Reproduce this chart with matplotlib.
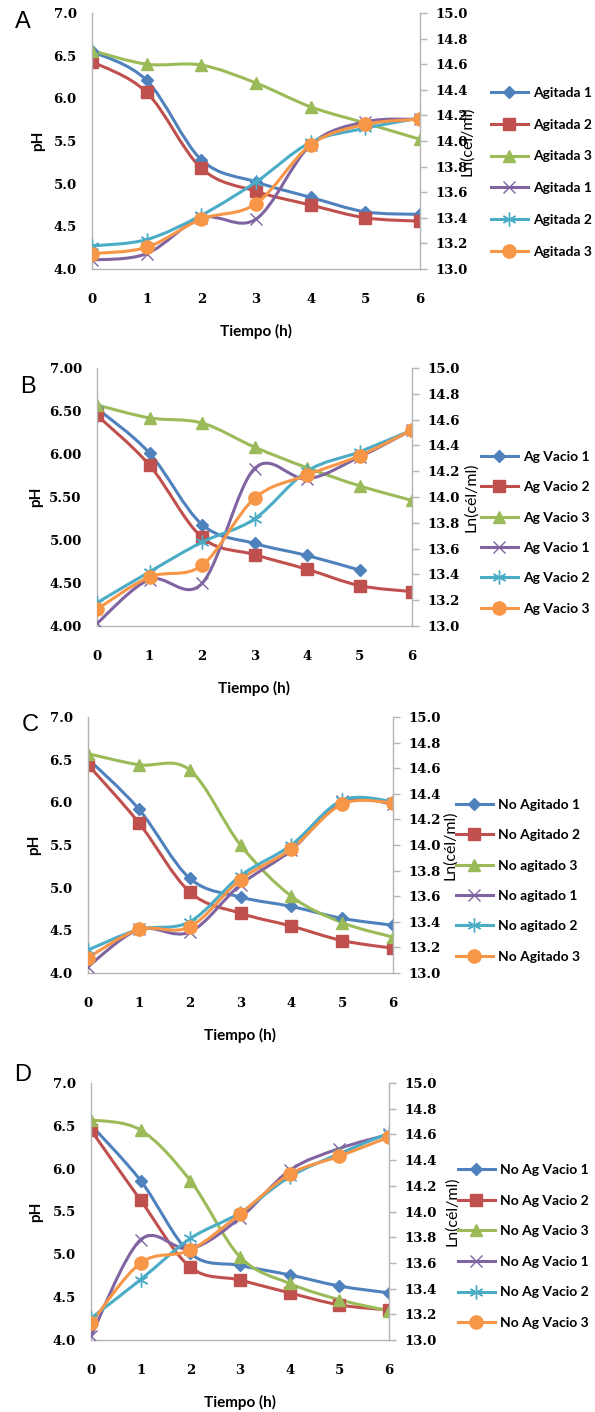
import matplotlib

matplotlib.use('Agg')
import matplotlib.pyplot as plt
from matplotlib.path import Path
from matplotlib.patches import PathPatch
from matplotlib.lines import Line2D
import numpy as np

plt.rcParams['font.family'] = ['DejaVu Serif']
plt.rcParams['font.weight'] = 'bold'

tiempo = [0, 1, 2, 3, 4, 5, 6]

# panel A
a_labels = ["Agitada 1", "Agitada 2", "Agitada 3", "Agitada 1", "Agitada 2", "Agitada 3"]
a_ph1 = [6.55, 6.21, 5.28, 5.02, 4.84, 4.67, 4.64]
a_ph2 = [6.43, 6.07, 5.18, 4.91, 4.75, 4.60, 4.56]
a_ph3 = [6.56, 6.40, 6.39, 6.18, 5.90, 5.71, 5.52]
a_ln1 = [13.07, 13.12, 13.40, 13.39, 13.97, 14.15, 14.17]
a_ln2 = [13.18, 13.23, 13.42, 13.68, 13.99, 14.10, 14.18]
a_ln3 = [13.12, 13.17, 13.39, 13.51, 13.97, 14.13, 14.17]

# panel B
b_labels = ["Ag Vacio 1", "Ag Vacio 2", "Ag Vacio 3", "Ag Vacio 1", "Ag Vacio 2", "Ag Vacio 3"]
b_ph1 = [6.53, 6.01, 5.18, 4.96, 4.82, 4.65, np.nan]
b_ph2 = [6.45, 5.87, 5.03, 4.83, 4.66, 4.47, 4.40]
b_ph3 = [6.57, 6.42, 6.36, 6.08, 5.84, 5.63, 5.46]
b_ln1 = [13.02, 13.36, 13.33, 14.22, 14.14, 14.31, 14.52]
b_ln2 = [13.18, 13.42, 13.65, 13.83, 14.20, 14.35, 14.52]
b_ln3 = [13.13, 13.38, 13.47, 13.99, 14.17, 14.32, 14.52]

# panel C
c_labels = ["No Agitado 1", "No Agitado 2", "No agitado 3", "No agitado 1", "No agitado 2", "No Agitado 3"]
c_ph1 = [6.51, 5.92, 5.11, 4.89, 4.78, 4.64, 4.56]
c_ph2 = [6.44, 5.76, 4.95, 4.70, 4.55, 4.38, 4.29]
c_ph3 = [6.57, 6.44, 6.38, 5.50, 4.90, 4.59, 4.42]
c_ln1 = [13.05, 13.34, 13.32, 13.69, 13.96, 14.34, 14.32]
c_ln2 = [13.18, 13.34, 13.40, 13.76, 14.00, 14.35, 14.34]
c_ln3 = [13.12, 13.34, 13.36, 13.73, 13.97, 14.32, 14.33]

# panel D
d_labels = ["No Ag Vacio 1", "No Ag Vacio 2", "No Ag Vacio 3", "No Ag Vacio 1", "No Ag Vacio 2", "No Ag Vacio 3"]
d_ph1 = [6.51, 5.86, 5.01, 4.87, 4.76, 4.63, 4.55]
d_ph2 = [6.45, 5.63, 4.85, 4.70, 4.55, 4.41, 4.35]
d_ph3 = [6.57, 6.45, 5.86, 4.97, 4.66, 4.47, 4.34]
d_ln1 = [13.03, 13.78, 13.71, 13.95, 14.32, 14.49, 14.60]
d_ln2 = [13.17, 13.47, 13.79, 13.99, 14.27, 14.45, 14.61]
d_ln3 = [13.13, 13.60, 13.70, 13.98, 14.29, 14.43, 14.58]

colors = ["#4F81BD", "#C0504D", "#9BBB59", "#8064A2", "#4BACC6", "#F79646"]
markers = ["D", "s", "^", "x", (6, 2, 0), "o"]
msizes = [6.5, 8.5, 8.5, 9, 10, 9.5]

W, H = 595, 1412
sans = ['Lato', 'DejaVu Sans']
gray = "#b4b4b4"

# layout (pixels): plot box (l, r, t, b), letter pos, pH label x, Ln label x, legend (x, top, spacing)
panels = [
    dict(letter="A", ph=[a_ph1, a_ph2, a_ph3], ln=[a_ln1, a_ln2, a_ln3], labels=a_labels, fmt="%.1f",
         box=(92, 420, 13, 269), let=(23, 22), phx=38, lnx=467, leg=(491, 87, 1.42)),
    dict(letter="B", ph=[b_ph1, b_ph2, b_ph3], ln=[b_ln1, b_ln2, b_ln3], labels=b_labels, fmt="%.2f",
         box=(97, 412, 368, 626), let=(28, 387), phx=36, lnx=471, leg=(481, 451, 1.32)),
    dict(letter="C", ph=[c_ph1, c_ph2, c_ph3], ln=[c_ln1, c_ln2, c_ln3], labels=c_labels, fmt="%.1f",
         box=(88, 393, 717, 973), let=(30, 725), phx=34, lnx=450, leg=(456, 799, 1.32)),
    dict(letter="D", ph=[d_ph1, d_ph2, d_ph3], ln=[d_ln1, d_ln2, d_ln3], labels=d_labels, fmt="%.1f",
         box=(91, 389, 1083, 1340), let=(23, 1075), phx=36, lnx=452, leg=(458, 1164, 1.34)),
]


def smooth_path(xs, ys):
    pts = np.array([(x, y) for x, y in zip(xs, ys) if not np.isnan(y)], dtype=float)
    n = len(pts)
    verts = [pts[0]]
    codes = [Path.MOVETO]
    for i in range(n - 1):
        p0 = pts[max(i - 1, 0)]
        p1 = pts[i]
        p2 = pts[i + 1]
        p3 = pts[min(i + 2, n - 1)]
        verts += [p1 + (p2 - p0) / 6.0, p2 - (p3 - p1) / 6.0, p2]
        codes += [Path.CURVE4] * 3
    return Path(verts, codes)


def draw_series(ax, ys, k):
    ax.add_patch(PathPatch(smooth_path(tiempo, ys), fill=False, edgecolor=colors[k],
                           linewidth=2.2, capstyle='round', joinstyle='round'))
    ax.plot(tiempo, ys, linestyle='none', marker=markers[k], markersize=msizes[k],
            color=colors[k], markeredgecolor=colors[k], markeredgewidth=1.0)


fig = plt.figure(figsize=(W / 100, H / 100), dpi=100)

for p in panels:
    l, r, t, b = p["box"]
    ax1 = fig.add_axes([l / W, 1 - b / H, (r - l) / W, (b - t) / H])
    ax2 = ax1.twinx()

    for k, ys in enumerate(p["ph"]):
        draw_series(ax1, ys, k)
    for k, ys in enumerate(p["ln"]):
        draw_series(ax2, ys, k + 3)

    ax1.set_xlim(0, 6)
    ax1.set_ylim(4.0, 7.0)
    ax2.set_ylim(13.0, 15.0)
    ax1.set_xticks(tiempo)
    ax1.set_yticks(np.arange(4.0, 7.01, 0.5))
    ax2.set_yticks(np.arange(13.0, 15.01, 0.2))
    ax1.set_yticklabels([p["fmt"] % v for v in np.arange(4.0, 7.01, 0.5)])
    ax2.set_yticklabels(["%.1f" % v for v in np.arange(13.0, 15.01, 0.2)])

    for ax in (ax1, ax2):
        ax.spines['top'].set_visible(False)
        for s in ax.spines.values():
            s.set_color(gray)
            s.set_linewidth(1.0)
    ax1.spines['right'].set_visible(False)
    ax2.spines['left'].set_visible(False)
    ax2.spines['bottom'].set_visible(False)

    ax1.tick_params(axis='y', length=0, pad=11, labelsize=9.5)
    ax1.tick_params(axis='x', length=0, pad=17, labelsize=9.5)
    ax2.tick_params(axis='y', length=5, width=1.0, color=gray, pad=6, labelsize=9.5)

    yc = 1 - (t + b) / 2 / H
    fig.text(p["phx"] / W, yc, "pH", rotation=90, ha='center', va='center',
             family=sans, weight='bold', fontsize=11)
    ax1.annotate("Tiempo (h)", xy=(0.5, 0), xycoords='axes fraction', xytext=(0, -45),
                 textcoords='offset points', ha='center', va='center',
                 family=sans, weight='bold', fontsize=11)
    fig.text(p["lnx"] / W, yc, "Ln(cél/ml)", rotation=90, ha='center',
             va='center', family=sans, weight='normal', fontsize=11.5)
    fig.text(p["let"][0] / W, 1 - p["let"][1] / H, p["letter"], ha='center', va='center',
             family=['Liberation Sans', 'DejaVu Sans'], weight='normal', fontsize=17)

    handles = [Line2D([], [], color=colors[k], linewidth=2.2, marker=markers[k],
                      markersize=msizes[k], markeredgecolor=colors[k], markeredgewidth=1.0)
               for k in range(6)]
    lx, ly, sp = p["leg"]
    fig.legend(handles, p["labels"], loc='upper left', bbox_to_anchor=(lx / W, 1 - ly / H),
               frameon=False, borderpad=0, borderaxespad=0, handlelength=2.66,
               handletextpad=0.36, labelspacing=sp,
               prop=dict(family=sans, weight='bold', size=10))

fig.savefig("out.png", dpi=100)
